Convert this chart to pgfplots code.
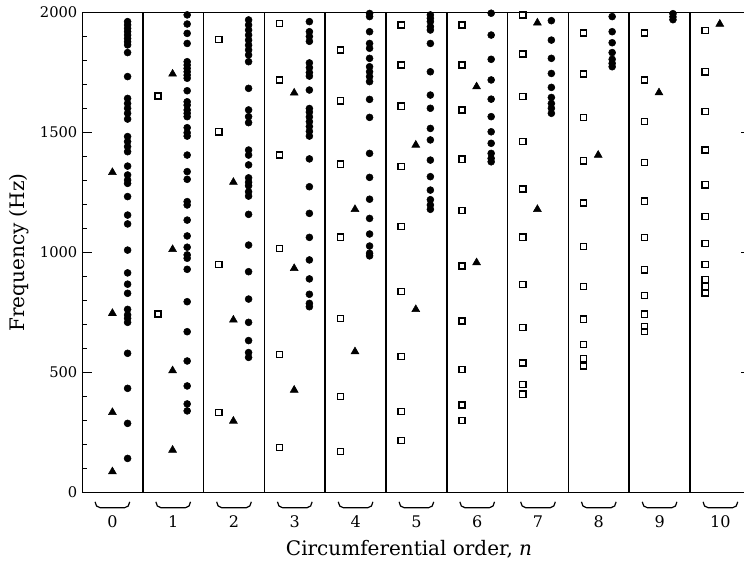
\documentclass[border=0pt]{standalone}
\usepackage{fontspec}
\setmainfont{DejaVu Serif}
\usepackage{pgfplots}
\pgfplotsset{compat=1.18}
\begin{document}
\begin{tikzpicture}
\begin{axis}[
  scale only axis,
  width=501.6pt, height=360pt,
  xmin=-0.5, xmax=10.5, ymin=0, ymax=2000,
  xtick={0,1,2,3,4,5,6,7,8,9,10},
  xtick style={draw=none},
  xticklabel style={yshift=-14pt, font=\fontsize{12}{14}\selectfont},
  ytick={0,500,1000,1500,2000},
  minor y tick num=4,
  tick align=inside,
  major tick length=7.5pt, minor tick length=3.5pt,
  ytick style={line width=0.8pt, black},
  /pgf/number format/assume math mode=true,
  yticklabel style={font=\fontsize{11}{13}\selectfont, /pgf/number format/1000 sep={}},
  scaled y ticks=false,
  label style={font=\fontsize{15}{18}\selectfont},
  xlabel={Circumferential order, \textit{n}},
  ylabel={Frequency (Hz)},
  xlabel style={at={(axis description cs:0.489,-0.118)}, anchor=center},
  ylabel style={at={(axis description cs:-0.0942,0.5)}, anchor=center},
  clip=false,
]
% group separators
\pgfplotsinvokeforeach{0.5,1.5,2.5,3.5,4.5,5.5,6.5,7.5,8.5,9.5}{
  \draw[line width=1.1pt] (axis cs:#1,0) -- (axis cs:#1,2000);
}
% braces below the groups
\pgfplotsinvokeforeach{0,1,2,3,4,5,6,7,8,9,10}{
  \draw[line width=0.9pt] ([shift={(-13pt,-7pt)}]axis cs:#1,0) to[out=-90,in=180] ([shift={(-9pt,-11.5pt)}]axis cs:#1,0) -- ([shift={(9pt,-11.5pt)}]axis cs:#1,0) to[out=0,in=-90] ([shift={(13pt,-7pt)}]axis cs:#1,0);
}
% squares
\addplot[only marks, mark=square, mark size=2.3pt, mark options={line width=1pt, fill=white, draw=black}] coordinates {
(0.75,1652) (0.75,744)
(1.75,1888) (1.75,1503) (1.75,951) (1.75,333)
(2.75,1955) (2.75,1719) (2.75,1406) (2.75,1017) (2.75,576) (2.75,188)
(3.75,1844) (3.75,1632) (3.75,1368) (3.75,1064) (3.75,726) (3.75,399) (3.75,170)
(4.75,1948) (4.75,1781) (4.75,1610) (4.75,1358) (4.75,1109) (4.75,838) (4.75,566) (4.75,337) (4.75,216)
(5.75,1948) (5.75,1781) (5.75,1594) (5.75,1389) (5.75,1175) (5.75,944) (5.75,715) (5.75,512) (5.75,365) (5.75,299)
(6.75,1990) (6.75,1827) (6.75,1649) (6.75,1462) (6.75,1265) (6.75,1064) (6.75,866) (6.75,687) (6.75,540) (6.75,451) (6.75,410)
(7.75,1915) (7.75,1744) (7.75,1563) (7.75,1382) (7.75,1206) (7.75,1024) (7.75,859) (7.75,722) (7.75,617) (7.75,559) (7.75,527)
(8.75,1915) (8.75,1719) (8.75,1545) (8.75,1375) (8.75,1214) (8.75,1062) (8.75,928) (8.75,821) (8.75,743) (8.75,691) (8.75,670)
(9.75,1924) (9.75,1753) (9.75,1587) (9.75,1427) (9.75,1282) (9.75,1150) (9.75,1038) (9.75,950) (9.75,887) (9.75,857) (9.75,831)
};
% triangles
\addplot[only marks, mark=triangle*, mark size=3.4pt, black] coordinates {
(0.0,1334) (0.0,747) (0.0,334) (0.0,87)
(0.99,1744) (0.99,1013) (0.99,508) (0.99,177)
(1.99,1293) (1.99,719) (1.99,298)
(2.99,1665) (2.99,934) (2.99,427)
(3.99,1180) (3.99,587)
(4.99,1448) (4.99,763)
(5.99,1691) (5.99,958)
(6.99,1957) (6.99,1180)
(7.99,1406)
(8.99,1666)
(9.99,1952)
};
% circles
\addplot[only marks, mark=*, mark size=2.6pt, black] coordinates {
(0.25,1962) (0.25,1948) (0.25,1934) (0.25,1920) (0.25,1906) (0.25,1892) (0.25,1878) (0.25,1865) (0.25,1833) (0.25,1733)
(0.25,1642) (0.25,1621) (0.25,1601) (0.25,1580) (0.25,1556) (0.25,1483) (0.25,1462) (0.25,1441) (0.25,1420) (0.25,1360)
(0.25,1323) (0.25,1302) (0.25,1288) (0.25,1233) (0.25,1156) (0.25,1119) (0.25,1010) (0.25,915) (0.25,868) (0.25,830)
(0.25,763) (0.25,740) (0.25,726) (0.25,709) (0.25,580) (0.25,434) (0.25,288) (0.25,142)
(1.23,1990) (1.23,1952) (1.23,1913) (1.23,1871) (1.23,1795) (1.23,1781) (1.23,1767) (1.23,1753) (1.23,1739) (1.23,1726)
(1.23,1674) (1.23,1628) (1.23,1614) (1.23,1594) (1.23,1580) (1.23,1566) (1.23,1520) (1.23,1499) (1.23,1485) (1.23,1406)
(1.23,1337) (1.23,1305) (1.23,1212) (1.23,1198) (1.23,1135) (1.23,1069) (1.23,1022) (1.23,990) (1.23,976) (1.23,930)
(1.23,795) (1.23,670) (1.23,548) (1.23,444) (1.23,369) (1.23,340)
(2.24,1969) (2.24,1948) (2.24,1927) (2.24,1906) (2.24,1885) (2.24,1864) (2.24,1844) (2.24,1823) (2.24,1795) (2.24,1684)
(2.24,1594) (2.24,1566) (2.24,1541) (2.24,1427) (2.24,1406) (2.24,1365) (2.24,1311) (2.24,1293) (2.24,1278) (2.24,1253)
(2.24,1235) (2.24,1159) (2.24,1031) (2.24,920) (2.24,806) (2.24,709) (2.24,633) (2.24,583) (2.24,563)
(3.24,1962) (3.24,1920) (3.24,1900) (3.24,1880) (3.24,1790) (3.24,1770) (3.24,1750) (3.24,1735) (3.24,1677) (3.24,1600)
(3.24,1585) (3.24,1565) (3.24,1545) (3.24,1525) (3.24,1505) (3.24,1485) (3.24,1390) (3.24,1274) (3.24,1163) (3.24,1063)
(3.24,969) (3.24,890) (3.24,826) (3.24,788) (3.24,774)
(4.23,1996) (4.23,1983) (4.23,1920) (4.23,1871) (4.23,1851) (4.23,1809) (4.23,1774) (4.23,1753) (4.23,1733) (4.23,1712)
(4.23,1638) (4.23,1563) (4.23,1413) (4.23,1313) (4.23,1222) (4.23,1142) (4.23,1077) (4.23,1027) (4.23,997) (4.23,986)
(5.23,1990) (5.23,1976) (5.23,1962) (5.23,1941) (5.23,1927) (5.23,1871) (5.23,1753) (5.23,1656) (5.23,1601) (5.23,1517)
(5.23,1469) (5.23,1385) (5.23,1316) (5.23,1260) (5.23,1220) (5.23,1198) (5.23,1180)
(6.23,1997) (6.23,1906) (6.23,1805) (6.23,1719) (6.23,1639) (6.23,1566) (6.23,1503) (6.23,1455) (6.23,1413) (6.23,1392) (6.23,1378)
(7.22,1966) (7.22,1885) (7.22,1809) (7.22,1746) (7.22,1688) (7.22,1646) (7.22,1621) (7.22,1601) (7.22,1580)
(8.22,1983) (8.22,1920) (8.22,1874) (8.22,1833) (8.22,1805) (8.22,1788) (8.22,1774)
(9.22,1995) (9.22,1982) (9.22,1970)
};
\coordinate (SW) at (rel axis cs:0,0);
\coordinate (NE) at (rel axis cs:1,1);
\end{axis}
\pgfresetboundingbox
\useasboundingbox ([shift={(-61.5pt,-51.375pt)}]SW) rectangle ([shift={(-5.1pt,9.375pt)}]NE);
\end{tikzpicture}
\end{document}
